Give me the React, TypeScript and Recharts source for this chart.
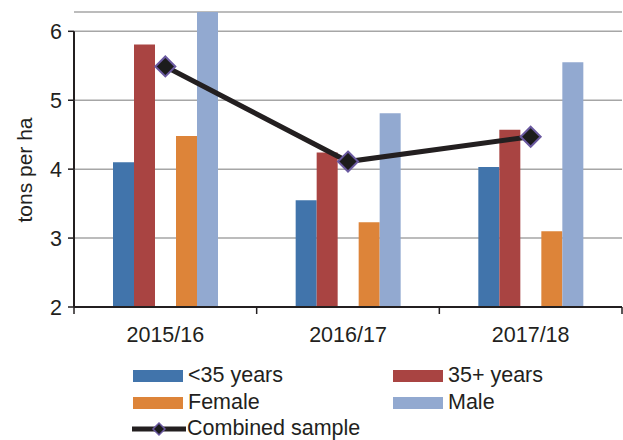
import React from 'react';
import { ComposedChart, Bar, Line, XAxis, YAxis, CartesianGrid } from 'recharts';

const categories = ['2015/16', '2016/17', '2017/18'];
const under35 = [4.1, 3.55, 4.03];
const over35 = [5.81, 4.24, 4.57];
const female = [4.48, 3.23, 3.1];
const male = [6.28, 4.81, 5.55];
const combined = [5.49, 4.11, 4.47];
const yTicks = [2, 3, 4, 5, 6];

const data = categories.map((name, i) => ({
    name,
    under35: under35[i],
    over35: over35[i],
    female: female[i],
    male: male[i],
    combined: combined[i],
}));

const W = 623;
const H = 440;
const MARGIN = { top: 12, right: 1, left: 0, bottom: 103 };
const Y_W = 74;
const X_H = 30;
const AXIS_Y = H - MARGIN.bottom - X_H;
const PLOT_H = AXIS_Y - MARGIN.top;
const BAND = (W - MARGIN.left - MARGIN.right - Y_W) / categories.length;
const Y_MAX = Math.max(...under35, ...over35, ...female, ...male, ...combined);
const UNIT = PLOT_H / (Y_MAX - 2);

const FONT = '"Liberation Sans", Arial, sans-serif';
const FS = 21.5;
const INK = '#231f20';
const COLORS = {
    under35: '#4174ab',
    over35: '#a94442',
    female: '#dd8439',
    male: '#92a9d0',
};

const XTick = (props: any) => {
    const { x, payload, index } = props;
    return (
        <g>
            <line x1={x - BAND / 2} x2={x - BAND / 2} y1={AXIS_Y} y2={AXIS_Y + 7} stroke={INK} strokeWidth={1.5} />
            {index === categories.length - 1 && (
                <line x1={x + BAND / 2} x2={x + BAND / 2} y1={AXIS_Y} y2={AXIS_Y + 7} stroke={INK} strokeWidth={1.5} />
            )}
            <text x={x} y={AXIS_Y + 35} textAnchor="middle" fill={INK} fontSize={FS} fontFamily={FONT}>
                {payload.value}
            </text>
        </g>
    );
};

const YTick = (props: any) => {
    const { y, payload } = props;
    const ax = MARGIN.left + Y_W;
    return (
        <g>
            <line x1={ax - 6} x2={ax} y1={y} y2={y} stroke={INK} strokeWidth={1.5} />
            {payload.value > 2 && (
                <line x1={ax} x2={ax} y1={y} y2={y + UNIT} stroke={INK} strokeWidth={2} />
            )}
            <text x={ax - 12} y={y + 8} textAnchor="end" fill={INK} fontSize={FS} fontFamily={FONT}>
                {payload.value}
            </text>
        </g>
    );
};

const Diamond = (props: any) => {
    const { cx, cy } = props;
    const r = 10;
    return (
        <path
            d={`M${cx},${cy - r} L${cx + r},${cy} L${cx},${cy + r} L${cx - r},${cy} Z`}
            fill="#1c1c1c"
            stroke="#6a59a0"
            strokeWidth={2}
        />
    );
};

const Swatch = ({ color, label }: { color: string; label: string }) => (
    <div style={{ display: 'flex', alignItems: 'center', height: 27 }}>
        <div style={{ width: 50, height: 12, background: color, marginRight: 5 }} />
        <span>{label}</span>
    </div>
);

const ChartLegend = () => (
    <div
        style={{
            position: 'absolute',
            left: 133,
            top: 362,
            fontFamily: FONT,
            fontSize: FS,
            color: INK,
            lineHeight: 1,
        }}
    >
        <div style={{ display: 'grid', gridTemplateColumns: '260px 200px' }}>
            <Swatch color={COLORS.under35} label="<35 years" />
            <Swatch color={COLORS.over35} label="35+ years" />
            <Swatch color={COLORS.female} label="Female" />
            <Swatch color={COLORS.male} label="Male" />
        </div>
        <div style={{ display: 'flex', alignItems: 'center', height: 26 }}>
            <svg width={54} height={16} style={{ marginRight: 1, marginLeft: -1 }}>
                <line x1={0} x2={54} y1={8} y2={8} stroke={INK} strokeWidth={5} />
                <path d="M27,2 L33,8 L27,14 L21,8 Z" fill="#1c1c1c" stroke="#6a59a0" strokeWidth={1.5} />
            </svg>
            <span>Combined sample</span>
        </div>
    </div>
);

const App = () => {
    return (
        <div style={{ position: 'absolute', left: 0, top: 0, width: W, height: H, background: '#fff' }}>
            <ComposedChart width={W} height={H} data={data} margin={MARGIN} barSize={21} barGap={0}>
                <CartesianGrid vertical={false} stroke="#a6a6a6" strokeWidth={1.5} />
                <XAxis
                    dataKey="name"
                    height={X_H}
                    axisLine={{ stroke: INK, strokeWidth: 2 }}
                    tickLine={false}
                    tick={<XTick />}
                    interval={0}
                />
                <YAxis
                    width={Y_W}
                    domain={[2, 'dataMax']}
                    ticks={yTicks}
                    axisLine={false}
                    tickLine={false}
                    tick={<YTick />}
                    label={{
                        content: () => (
                            <text
                                x={24}
                                y={170}
                                transform="rotate(-90 24 170)"
                                textAnchor="middle"
                                dominantBaseline="central"
                                fill={INK}
                                fontSize={21}
                                fontFamily={FONT}
                            >
                                tons per ha
                            </text>
                        ),
                    }}
                />
                <Bar dataKey="under35" fill={COLORS.under35} isAnimationActive={false} />
                <Bar dataKey="over35" fill={COLORS.over35} isAnimationActive={false} />
                <Bar dataKey="gap" fill="none" isAnimationActive={false} />
                <Bar dataKey="female" fill={COLORS.female} isAnimationActive={false} />
                <Bar dataKey="male" fill={COLORS.male} isAnimationActive={false} />
                <Line
                    dataKey="combined"
                    stroke={INK}
                    strokeWidth={5}
                    dot={<Diamond />}
                    activeDot={false}
                    isAnimationActive={false}
                />
            </ComposedChart>
            <ChartLegend />
        </div>
    );
};

export default App;
